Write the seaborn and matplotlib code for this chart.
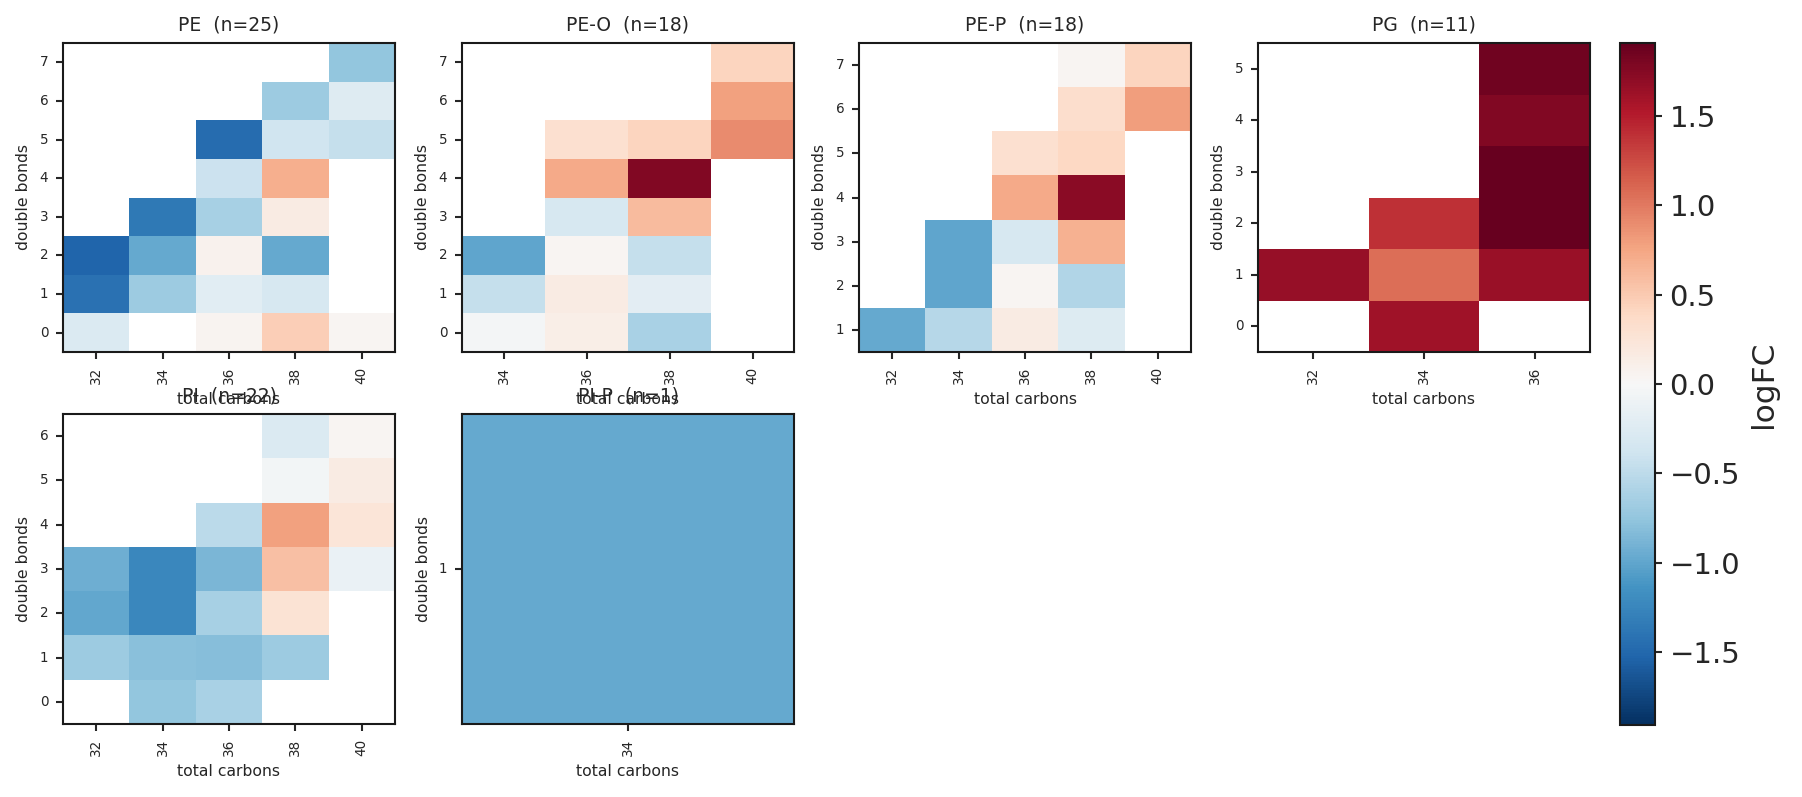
import numpy as np
import pandas as pd
import seaborn as sns
import matplotlib.pyplot as plt

nan = np.nan

# lipid classes, one heatmap each
classes = ['PE', 'PE-O', 'PE-P', 'PG', 'PI', 'PI-P']
n_species = [25, 18, 18, 11, 22, 1]

# PE: rows = double bonds 0..7, cols = total carbons
pe_carbons = [32, 34, 36, 38, 40]
pe_bonds = [0, 1, 2, 3, 4, 5, 6, 7]
pe_logfc = [
    [-0.28, nan, 0.05, 0.47, 0.04],
    [-1.42, -0.69, -0.21, -0.32, nan],
    [-1.53, -0.97, 0.08, -0.97, nan],
    [nan, -1.36, -0.64, 0.16, nan],
    [nan, nan, -0.41, 0.70, nan],
    [nan, nan, -1.47, -0.38, -0.45],
    [nan, nan, nan, -0.69, -0.25],
    [nan, nan, nan, nan, -0.76],
]

peo_carbons = [34, 36, 38, 40]
peo_bonds = [0, 1, 2, 3, 4, 5, 6, 7]
peo_logfc = [
    [-0.03, 0.12, -0.62, nan],
    [-0.45, 0.15, -0.20, nan],
    [-1.00, 0.04, -0.45, nan],
    [nan, -0.32, 0.61, nan],
    [nan, 0.73, 1.77, nan],
    [nan, 0.31, 0.43, 0.91],
    [nan, nan, nan, 0.79],
    [nan, nan, nan, 0.42],
]

pep_carbons = [32, 34, 36, 38, 40]
pep_bonds = [1, 2, 3, 4, 5, 6, 7]
pep_logfc = [
    [-0.97, -0.55, 0.15, -0.26, nan],
    [nan, -1.00, 0.04, -0.58, nan],
    [nan, -1.00, -0.32, 0.68, nan],
    [nan, nan, 0.72, 1.72, nan],
    [nan, nan, 0.31, 0.40, nan],
    [nan, nan, nan, 0.33, 0.80],
    [nan, nan, nan, 0.04, 0.42],
]

pg_carbons = [32, 34, 36]
pg_bonds = [0, 1, 2, 3, 4, 5]
pg_logfc = [
    [nan, 1.62, nan],
    [1.67, 1.07, 1.65],
    [nan, 1.39, 1.91],
    [nan, nan, 1.91],
    [nan, nan, 1.77],
    [nan, nan, 1.86],
]

pi_carbons = [32, 34, 36, 38, 40]
pi_bonds = [0, 1, 2, 3, 4, 5, 6]
pi_logfc = [
    [nan, -0.75, -0.62, nan, nan],
    [-0.70, -0.80, -0.82, -0.69, nan],
    [-0.99, -1.25, -0.64, 0.27, nan],
    [-0.93, -1.25, -0.88, 0.57, -0.12],
    [nan, nan, -0.52, 0.79, 0.24],
    [nan, nan, nan, -0.05, 0.16],
    [nan, nan, nan, -0.28, 0.04],
]

pip_carbons = [34]
pip_bonds = [1]
pip_logfc = [[-0.97]]

tables = [
    (pe_carbons, pe_bonds, pe_logfc),
    (peo_carbons, peo_bonds, peo_logfc),
    (pep_carbons, pep_bonds, pep_logfc),
    (pg_carbons, pg_bonds, pg_logfc),
    (pi_carbons, pi_bonds, pi_logfc),
    (pip_carbons, pip_bonds, pip_logfc),
]

vmax = max(np.nanmax(np.abs(np.array(t[2], dtype=float))) for t in tables)

sns.set_style('ticks')
plt.rcParams['font.family'] = ['DejaVu Sans']

W, H = 1802, 797
fig = plt.figure(figsize=(W / 150, H / 150), dpi=150)

# panel boxes in pixels: left, top, width, height
col_x = [63, 462, 859, 1258]
row_y = [(43, 309), (414, 310)]

def px_rect(x, y, w, h):
    return [x / W, 1 - (y + h) / H, w / W, h / H]

cax = fig.add_axes(px_rect(1620, 43, 35, 682))

for i, (cls, n, (carbons, bonds, vals)) in enumerate(zip(classes, n_species, tables)):
    r, c = divmod(i, 4)
    ax = fig.add_axes(px_rect(col_x[c], row_y[r][0], 332, row_y[r][1]))
    df = pd.DataFrame(vals, index=bonds, columns=carbons)
    first = i == 0
    sns.heatmap(df, cmap='RdBu_r', vmin=-vmax, vmax=vmax, ax=ax,
                cbar=first, cbar_ax=cax if first else None)
    ax.invert_yaxis()
    for sp in ax.spines.values():
        sp.set_visible(True)
        sp.set_linewidth(1.0)
        sp.set_color('#1a1a1a')
    ax.tick_params(axis='x', labelsize=6.5, rotation=90, length=3.5, width=1)
    ax.tick_params(axis='y', labelsize=6.5, rotation=0, length=3.5, width=1)
    ax.set_xlabel('total carbons', fontsize=7.5)
    ax.set_ylabel('double bonds', fontsize=7.5)
    ax.set_title(f'{cls}  (n={n})', fontsize=9)

cb = fig.axes[1].collections[0].colorbar
cb.outline.set_visible(True)
cb.outline.set_linewidth(1.0)
cb.outline.set_edgecolor('#1a1a1a')
cb.ax.tick_params(labelsize=14, length=3.5, width=1)
cb.set_label('logFC', fontsize=15)

fig.savefig('out.png', dpi=150)
